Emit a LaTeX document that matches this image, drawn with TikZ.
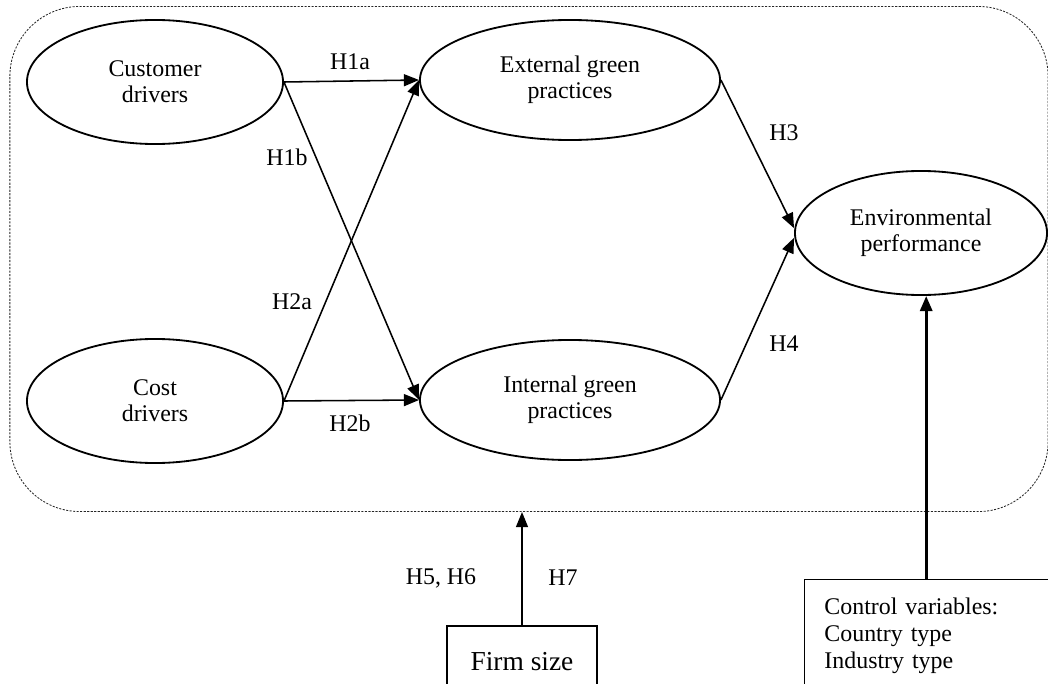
\documentclass[tikz,border=0pt]{standalone}
\usepackage{fontspec}
\setmainfont{Liberation Serif}
\usetikzlibrary{arrows.meta,shapes.geometric}

\begin{document}
\begin{tikzpicture}[x=0.025cm,y=-0.025cm,
    construct/.style={ellipse,draw,line width=1.3pt,align=center,
      inner sep=0pt,font=\fontsize{17}{18.5}\selectfont},
    hyparrow/.style={-{Triangle[length=3.8mm,width=3mm]},line width=1.1pt},
    hyp/.style={font=\fontsize{17}{18.5}\selectfont}]
  \useasboundingbox (0,0) rectangle (1048,684);
  \clip (0,0) rectangle (1048,684);
  % dotted frame round the model
  \node[draw=black!85,line width=0.6pt,dash pattern=on 1.5pt off 1pt,
        rounded corners=1.75cm,minimum width=25.95cm,
        minimum height=12.625cm] (frame) at (529,259) {};
  % constructs
  \node[construct,minimum width=6.4cm,minimum height=3.1cm]
    (cust) at (155,82) {Customer\\drivers};
  \node[construct,minimum width=6.4cm,minimum height=3.1cm]
    (cost) at (155,401) {Cost\\drivers};
  \node[construct,minimum width=7.5cm,minimum height=3cm]
    (ext) at (570,80) {External green\\practices};
  \node[construct,minimum width=7.5cm,minimum height=3cm]
    (int) at (570,400) {Internal green\\practices};
  \node[construct,minimum width=6.3cm,minimum height=3.1cm]
    (env) at (921,233) {Environmental\\performance};
  % boxes below
  \node[draw,line width=1.4pt,minimum width=3.725cm,minimum height=1.8cm,
        font=\fontsize{19.5}{22}\selectfont] (firm) at (522,662) {Firm size};
  \node[draw,line width=0.6pt,anchor=north west,align=left,
        text width=5.7cm,inner xsep=0.5cm,inner ysep=0.45cm,
        text depth=2.2cm,font=\fontsize{17}{19.5}\selectfont]
    (ctl) at (804,579) {Control variables:\\Country type\\Industry type};
  \coordinate (envfoot) at ([xshift=0.13cm]env.south);
  % hypotheses
  \draw[hyparrow] (cust.east) -- (ext.west);
  \draw[hyparrow] (cust.east) -- (int.west);
  \draw[hyparrow] (cost.east) -- (ext.west);
  \draw[hyparrow] (cost.east) -- (int.west);
  \draw[hyparrow] (ext.east) -- ([yshift=0.12cm]env.west);
  \draw[hyparrow] (int.east) -- ([yshift=-0.12cm]env.west);
  \draw[hyparrow] (firm.north) -- (firm.north |- frame.south);
  \draw[hyparrow,line width=2.3pt] (envfoot |- ctl.north) -- (envfoot);
  % labels
  \node[hyp] (h1a) at (350,62) {H1a};
  \node[hyp] (h1b) at (287,157) {H1b};
  \node[hyp] (h2a) at (292,302) {H2a};
  \node[hyp] (h2b) at (350,423) {H2b};
  \node[hyp] (h3) at (784,133) {H3};
  \node[hyp] (h4) at (784,344) {H4};
  \node[hyp] (h56) at (441,578) {H5, H6};
  \node[hyp] (h7) at (563,578) {H7};
\end{tikzpicture}
\end{document}
